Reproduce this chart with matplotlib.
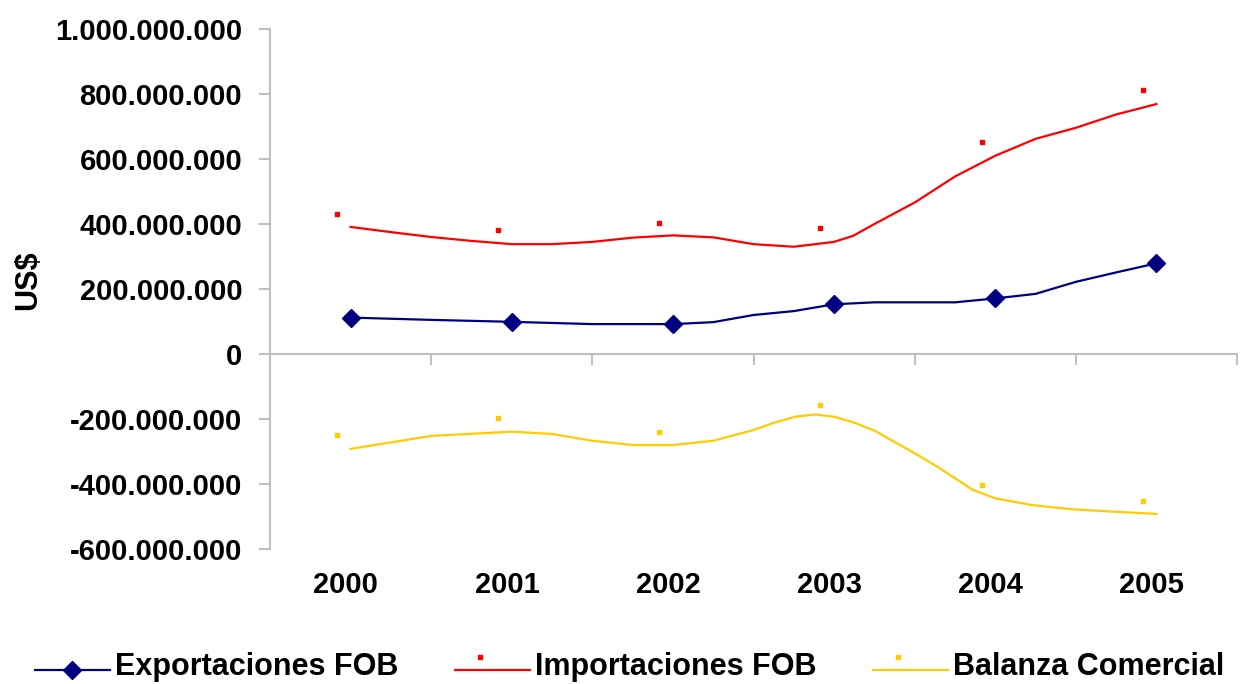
import numpy as np
import matplotlib
matplotlib.use("Agg")
import matplotlib.pyplot as plt
import matplotlib.transforms as mtransforms
from matplotlib.lines import Line2D
from matplotlib.legend_handler import HandlerBase
from matplotlib.ticker import FuncFormatter

plt.rcParams['font.family'] = ['Liberation Sans', 'DejaVu Sans']
plt.rcParams['font.weight'] = 'bold'

# data (millions of US$)
years = ['2000', '2001', '2002', '2003', '2004', '2005']
exportaciones = [112, 99, 92, 153, 171, 279]
importaciones = [431, 381, 403, 387, 653, 812]
balanza = [-249, -196, -241, -157, -403, -452]

# the drawn lines (positions in category units)
exp_line_x = [0, 0.5, 1, 1.5, 2, 2.25, 2.5, 2.75, 3, 3.25, 3.5, 3.75, 4, 4.25, 4.5, 4.75, 5]
exp_line_y = [112, 105, 99, 92, 92, 98, 120, 132, 153, 159, 159, 159, 171, 185, 222, 251, 279]

imp_line_x = [0, 0.25, 0.5, 0.75, 1, 1.25, 1.5, 1.75, 2, 2.25, 2.5, 2.75, 3, 3.12, 3.25,
              3.5, 3.75, 4, 4.25, 4.5, 4.75, 5]
imp_line_y = [391, 375, 360, 348, 338, 338, 345, 358, 365, 359, 338, 330, 345, 364, 400,
              466, 546, 610, 662, 696, 737, 769]

bal_line_x = [0, 0.5, 1, 1.25, 1.5, 1.75, 2, 2.25, 2.5, 2.63, 2.76, 2.88, 3, 3.13, 3.26,
              3.39, 3.51, 3.64, 3.75, 3.86, 4, 4.23, 4.48, 4.73, 5]
bal_line_y = [-292, -252, -239, -246, -267, -280, -280, -267, -234, -211, -193, -186, -193,
              -212, -238, -275, -308, -347, -382, -418, -444, -465, -478, -485, -492]

NAVY = '#000080'
RED = '#FF0000'
YELLOW = '#FFCC00'
GRAY = '#C0C0C0'
M = 1e6

fig = plt.figure(figsize=(12.4, 6.84), dpi=100)
ax = fig.add_axes([270 / 1240, 1 - 549 / 684, (1237 - 270) / 1240, 520 / 684])

x = np.arange(len(years))
off = -0.085

ax.plot(np.array(exp_line_x), np.array(exp_line_y) * M, color=NAVY, lw=1.6)
ax.plot(x, np.array(exportaciones) * M, ls='none', marker='D', ms=9.5, color=NAVY)

ax.plot(np.array(imp_line_x), np.array(imp_line_y) * M, color=RED, lw=1.6)
ax.plot(x + off, np.array(importaciones) * M, ls='none', marker='s', ms=3.3, color=RED)

ax.plot(np.array(bal_line_x), np.array(bal_line_y) * M, color=YELLOW, lw=1.6)
ax.plot(x + off, np.array(balanza) * M, ls='none', marker='s', ms=3.3, color=YELLOW)

ax.set_xlim(-0.5, 5.5)
ax.set_ylim(-600 * M, 1000 * M)
ax.set_yticks(np.arange(-600, 1001, 200) * M)
ax.yaxis.set_major_formatter(FuncFormatter(lambda v, p: format(int(round(v)), ',').replace(',', '.')))
ax.tick_params(axis='y', direction='out', length=8, width=1.5, color=GRAY,
               labelsize=21, pad=12)

for s in ['top', 'right']:
    ax.spines[s].set_visible(False)
ax.spines['left'].set_color(GRAY)
ax.spines['left'].set_linewidth(1.5)
ax.spines['bottom'].set_position(('data', 0))
ax.spines['bottom'].set_color(GRAY)
ax.spines['bottom'].set_linewidth(1.5)

ax.set_xticks(np.arange(0.5, 6, 1))
ax.tick_params(axis='x', direction='out', length=8, width=1.5, color=GRAY, labelbottom=False)

trans = mtransforms.blended_transform_factory(ax.transData, ax.transAxes)
for i, yr in enumerate(years):
    ax.text(i - 0.03, -0.069, yr, transform=trans, ha='center', va='center', fontsize=21)

fig.text(28 / 1240, 1 - 280 / 684, 'US$', rotation=90, ha='center', va='center', fontsize=22)


class OffsetHandler(HandlerBase):
    def create_artists(self, legend, orig_handle, xdescent, ydescent, width, height,
                       fontsize, trans):
        c = orig_handle.get_color()
        yl = height * 0.22 - ydescent
        line = Line2D([-xdescent, width - xdescent], [yl, yl], color=c, lw=1.6)
        mk = orig_handle.get_marker()
        if mk == 'D':
            m = Line2D([width * 0.5 - xdescent], [yl], marker='D', ms=9, color=c, ls='none')
        else:
            m = Line2D([width * 0.33 - xdescent], [height * 0.85 - ydescent], marker='s',
                       ms=3.3, color=c, ls='none')
        line.set_transform(trans)
        m.set_transform(trans)
        return [line, m]


handles = [Line2D([], [], color=NAVY, marker='D'),
           Line2D([], [], color=RED, marker='s'),
           Line2D([], [], color=YELLOW, marker='s')]
labels = ['Exportaciones FOB', 'Importaciones FOB', 'Balanza Comercial']
fig.legend(handles, labels, handler_map={Line2D: OffsetHandler()},
           loc='center left', bbox_to_anchor=(35 / 1240, 1 - 667 / 684), ncol=3,
           frameon=False, fontsize=22, handlelength=2.45, handletextpad=0.16,
           columnspacing=1.86, borderpad=0, borderaxespad=0)

fig.savefig('out.png', dpi=100)
